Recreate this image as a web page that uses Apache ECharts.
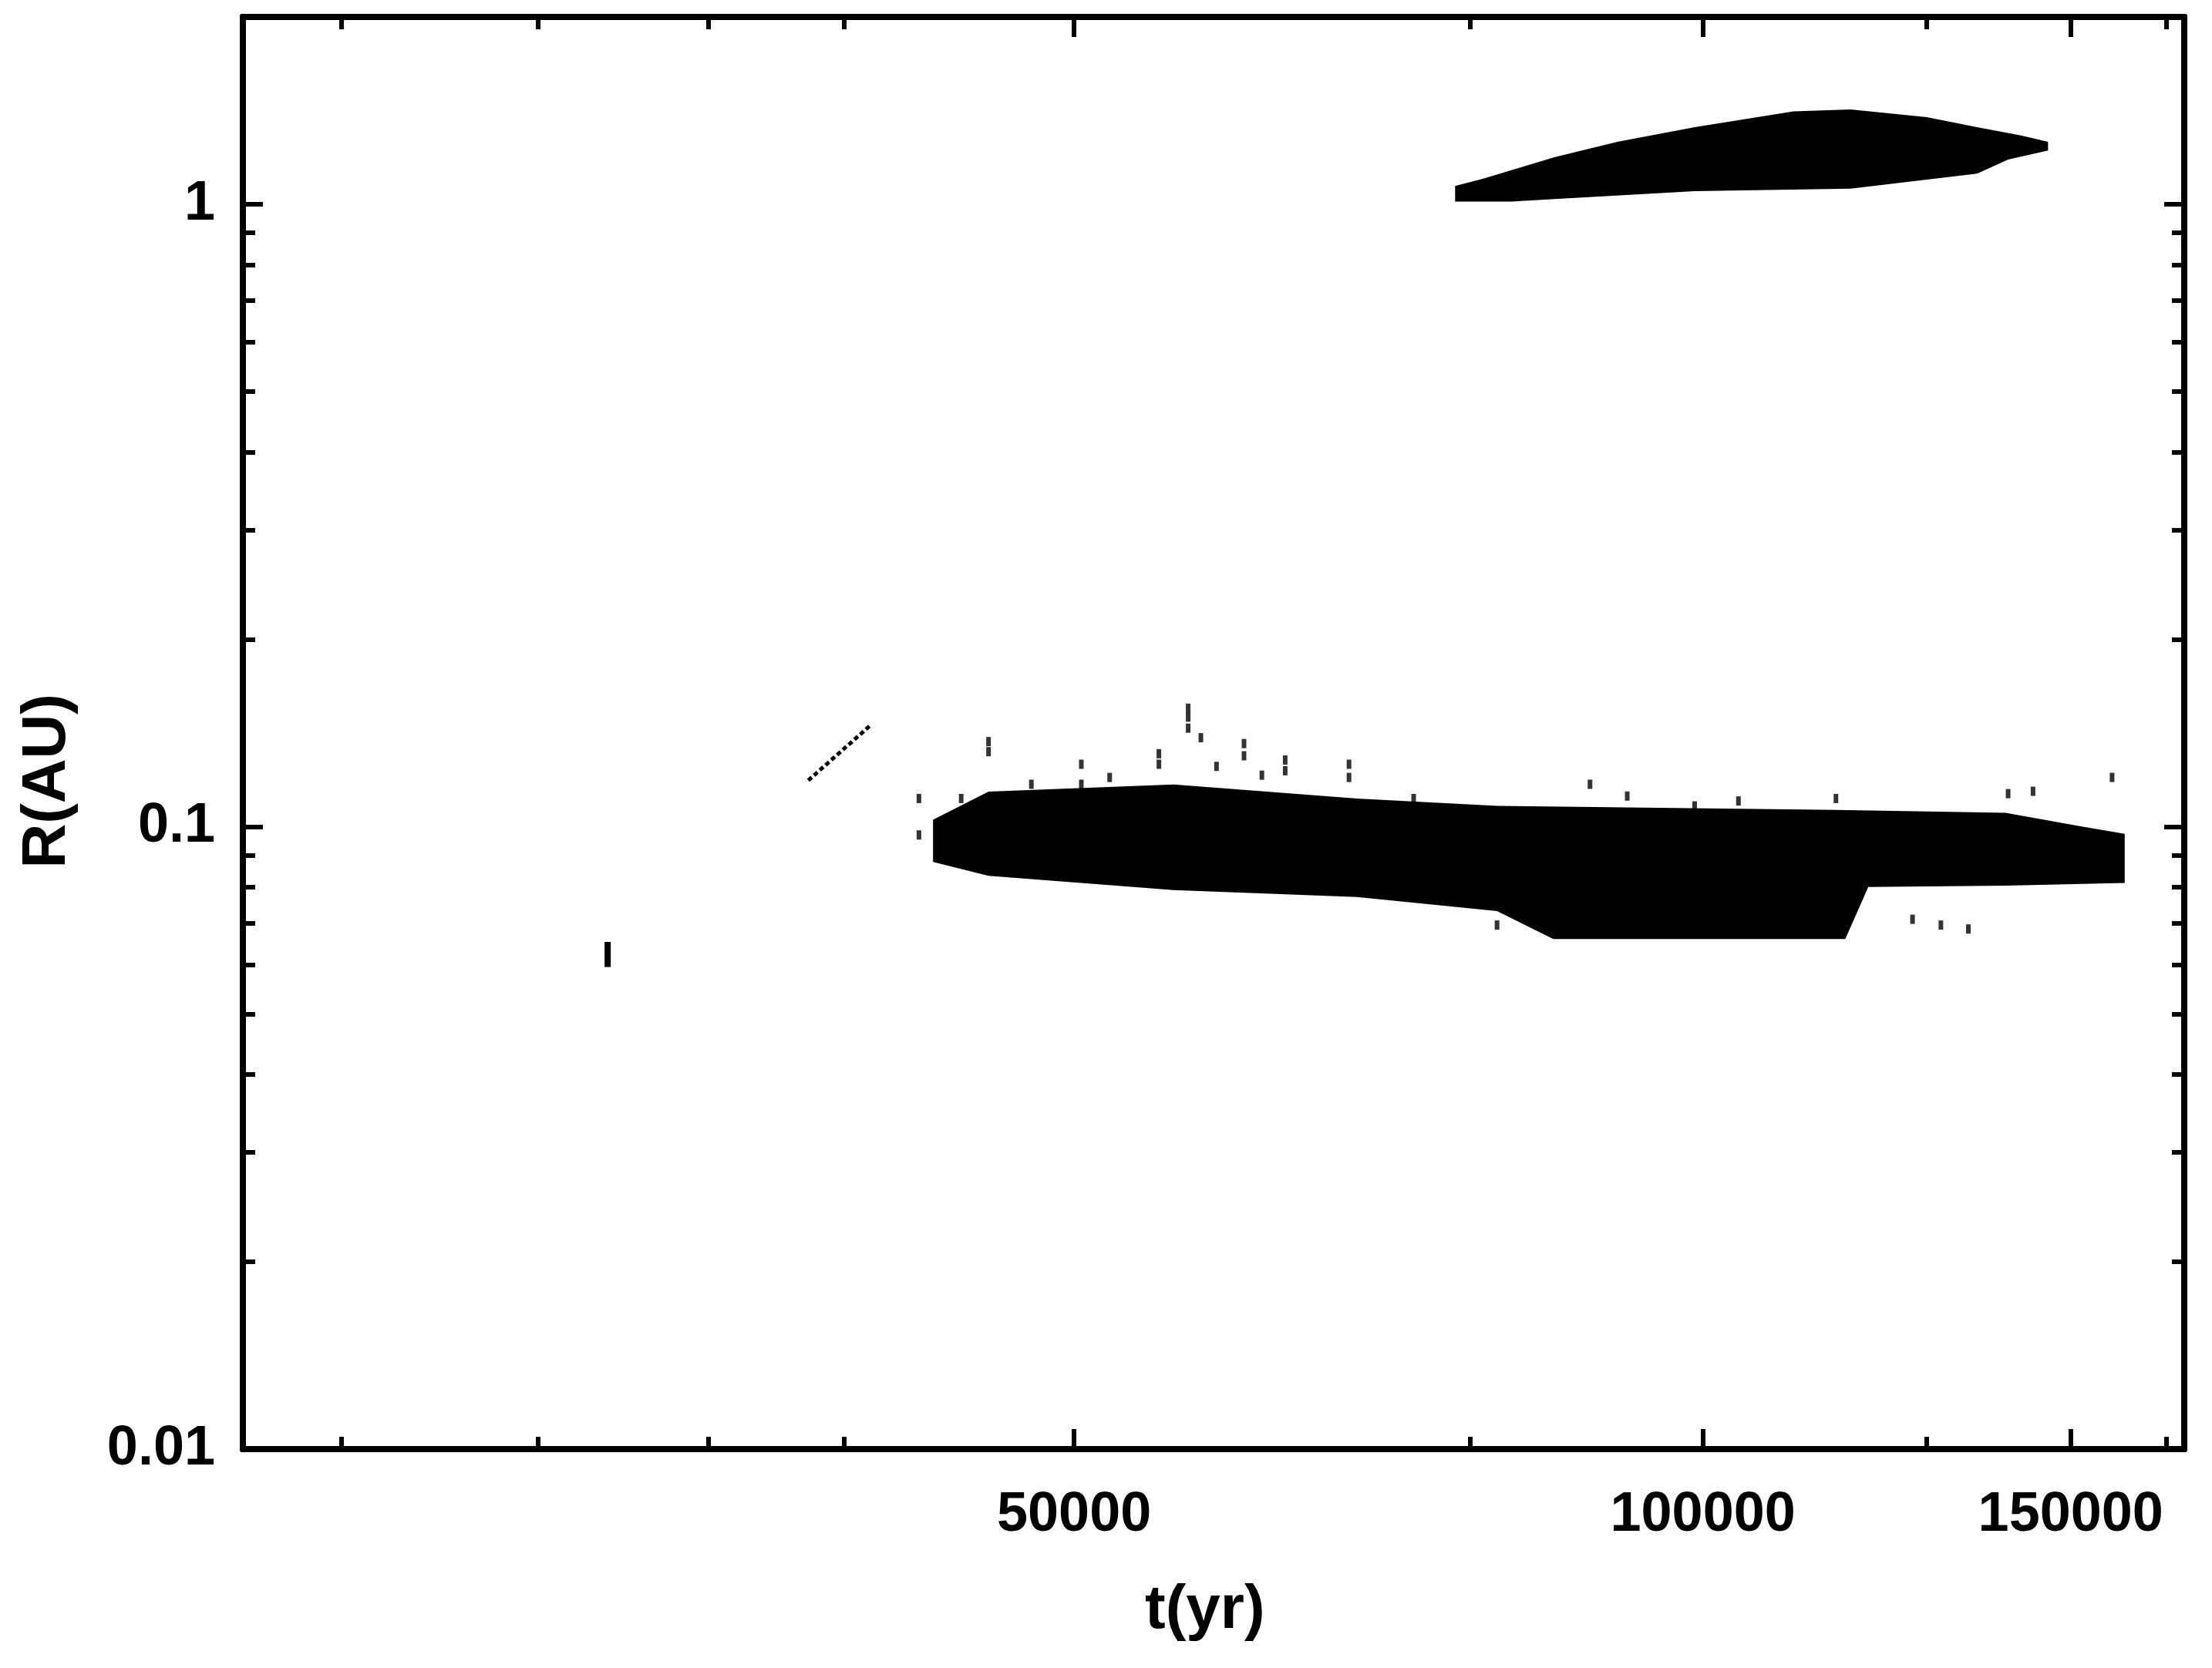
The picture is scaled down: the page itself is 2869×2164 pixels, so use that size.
<!DOCTYPE html>
<html>
<head>
<meta charset="utf-8">
<script src="https://cdn.jsdelivr.net/npm/echarts@6/dist/echarts.min.js"></script>
<style>html,body{margin:0;padding:0;background:#fff}#main{width:2869px;height:2164px}</style>
</head>
<body>
<div id="main"></div>
<script>
// x range, ticks
var xMajor = [50000, 100000, 150000];
var xMinor = [22300, 27700, 33400, 38800, 77400, 128000, 166700];
var yMajor = [0.01, 0.1, 1];
var yMinor = [0.02, 0.03, 0.04, 0.05, 0.06, 0.07, 0.08, 0.09, 0.2, 0.3, 0.4, 0.5, 0.6, 0.7, 0.8, 0.9, 2];

// outer envelope of the upper (~1 AU) cloud: [t, R]
var upperBlob = [
  [76100, 1.01], [76100, 1.07], [78500, 1.1], [84900, 1.19], [91000, 1.26], [99100, 1.33], [110500, 1.41],
  [117700, 1.42], [128000, 1.38], [135300, 1.33], [142000, 1.29], [146300, 1.26], [146300, 1.22],
  [140000, 1.18], [135300, 1.12], [117700, 1.06], [99100, 1.05], [84900, 1.02], [81000, 1.01]
];

// outer envelope of the dense inner (~0.1 AU) cloud
var lowerBlob = [
  [42800, 0.1026], [45500, 0.1139], [55800, 0.1169], [68300, 0.1110], [79700, 0.108],
  [115800, 0.1064], [139600, 0.1053], [152000, 0.100], [159200, 0.0974],
  [159200, 0.0812], [139600, 0.0804], [120000, 0.0800], [117000, 0.066], [84800, 0.066],
  [79700, 0.0732], [68300, 0.0771], [55800, 0.0791], [45500, 0.0834], [42800, 0.0878]
];

// sparse points scattered around the inner cloud
var sparsePts = [
  [56700, 0.155], [56700, 0.150], [56700, 0.144], [57500, 0.139], [60300, 0.130], [60300, 0.136],
  [54900, 0.126], [54900, 0.131], [50400, 0.126], [45500, 0.137], [45500, 0.132], [42140, 0.111],
  [63100, 0.123], [63100, 0.128], [67700, 0.126], [67700, 0.120], [88300, 0.117], [115800, 0.111],
  [157000, 0.120], [143900, 0.114], [140000, 0.113], [72700, 0.111], [99100, 0.108], [50400, 0.117],
  [47700, 0.117], [44150, 0.111], [42140, 0.097], [52000, 0.120], [58500, 0.125], [61500, 0.121],
  [79700, 0.0695], [130000, 0.0695], [134000, 0.0685], [126000, 0.071], [92000, 0.112], [104000, 0.110]
];

// short diagonal track and short vertical mark
var diagTrack = [[37300, 0.1187], [39900, 0.145]];
var vertMark = [[29900, 0.0653], [29900, 0.0595]];

var chart = echarts.init(document.getElementById('main'));
var lineStyle = { color: '#000', width: 8 };
var font = { fontFamily: 'Liberation Sans', fontWeight: 'bold', fontSize: 72, color: '#000' };

function blobSeries(pts) {
  return {
    type: 'custom', xAxisIndex: 0, yAxisIndex: 0, data: [0], silent: true,
    renderItem: function (params, api) {
      return { type: 'polygon', shape: { points: pts.map(function (p) { return api.coord(p); }) },
               style: { fill: '#000' } };
    }
  };
}
function xAx(pos, ticks, len, labels) {
  return {
    type: 'log', position: pos, min: 20000, max: 170000, logBase: 10,
    axisLine: { show: true, onZero: false, lineStyle: lineStyle },
    axisTick: { show: true, inside: true, length: len, customValues: ticks, lineStyle: { width: 6, color: '#000' } },
    axisLabel: labels ? Object.assign({ customValues: xMajor, margin: 50, formatter: function (v) { return String(Math.round(v)); } }, font) : { show: false },
    splitLine: { show: false }
  };
}
function yAx(pos, ticks, len, labels) {
  return {
    type: 'log', position: pos, min: 0.01, max: 2, logBase: 10,
    axisLine: { show: true, onZero: false, lineStyle: lineStyle },
    axisTick: { show: true, inside: true, length: len, customValues: ticks, lineStyle: { width: 6, color: '#000' } },
    axisLabel: labels ? Object.assign({ customValues: yMajor, margin: 36, formatter: function (v) { return v >= 1 ? '1' : String(+v.toPrecision(1)); } }, font) : { show: false },
    splitLine: { show: false }
  };
}

chart.setOption({
  backgroundColor: '#fff',
  animation: false,
  grid: { left: 315, right: 36, top: 22, bottom: 284 },
  xAxis: [xAx('bottom', xMajor, 26, true), xAx('bottom', xMinor, 16, false),
          xAx('top', xMajor, 26, false), xAx('top', xMinor, 16, false)],
  yAxis: [yAx('left', yMajor, 26, true), yAx('left', yMinor, 16, false),
          yAx('right', yMajor, 26, false), yAx('right', yMinor, 16, false)],
  graphic: [
    { type: 'text', left: 1485, top: 2050, style: { text: 't(yr)', fontSize: 80, fontFamily: 'Liberation Sans', fontWeight: 'bold', fill: '#000' } },
    { type: 'text', left: 22, top: 900, style: { text: 'R(AU)', fontSize: 80, fontFamily: 'Liberation Sans', fontWeight: 'bold', fill: '#000' }, rotation: Math.PI / 2, originX: 0, originY: 0, x: 0, y: 260 }
  ],
  series: [
    blobSeries(upperBlob),
    blobSeries(lowerBlob),
    { type: 'scatter', xAxisIndex: 0, yAxisIndex: 0, data: sparsePts, symbol: 'rect', symbolSize: [6, 12], itemStyle: { color: '#000' } },
    { type: 'line', xAxisIndex: 0, yAxisIndex: 0, data: diagTrack, showSymbol: false, lineStyle: { color: '#000', width: 5, type: [6, 4] } },
    { type: 'line', xAxisIndex: 0, yAxisIndex: 0, data: vertMark, showSymbol: false, lineStyle: { color: '#000', width: 8 } }
  ]
});
</script>
</body>
</html>
